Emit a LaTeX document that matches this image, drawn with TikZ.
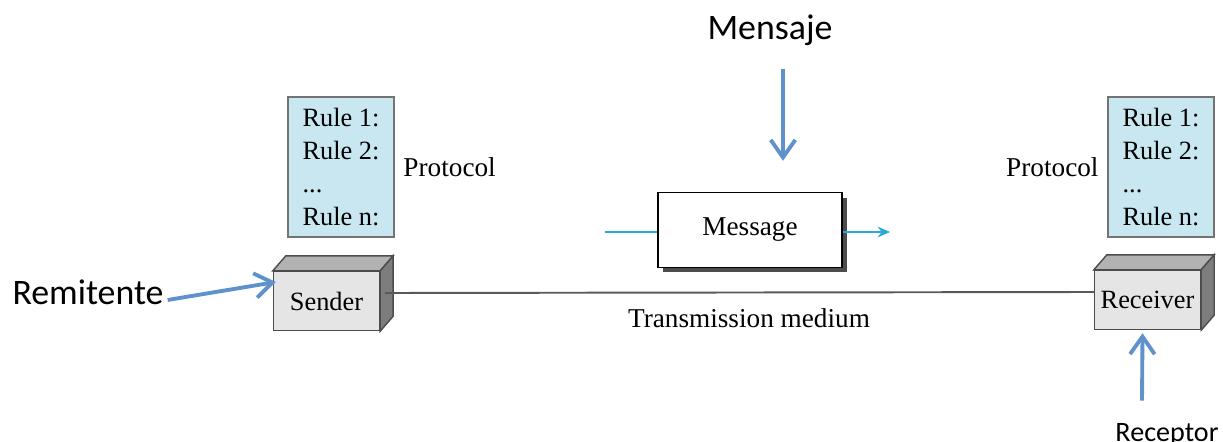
\documentclass[tikz,border=0pt]{standalone}
\usepackage{fontspec}
\setmainfont{Liberation Serif}
\newfontfamily\calibri{Carlito}
\usetikzlibrary{arrows.meta,positioning,calc,shadows}

\definecolor{notecol}{RGB}{95,145,205}
\definecolor{signal}{RGB}{40,170,215}
\definecolor{rulefill}{RGB}{200,231,241}
\definecolor{frontgray}{RGB}{229,229,229}
\definecolor{topgray}{RGB}{178,178,178}
\definecolor{sidegray}{RGB}{125,125,125}

\begin{document}
\begin{tikzpicture}[x=0.02cm, y=-0.02cm,
		rules/.style={draw=black!55, fill=rulefill, line width=0.9pt, minimum width=2.12cm, minimum height=2.8cm, inner sep=0pt, align=left, font=\fontsize{15}{18.7}\selectfont},
		station/.style={draw=black!70, fill=frontgray, line width=0.8pt, minimum width=2.12cm, minimum height=1.18cm, inner sep=0pt, font=\fontsize{15}{18}\selectfont},
		serif/.style={font=\fontsize{15.5}{18}\selectfont},
		note/.style={font=\calibri\fontsize{20.4}{24}\selectfont},
		callout/.style={draw=notecol, line width=2.2pt, -{Straight Barb[length=10pt,width=14pt]}},
	]
		\useasboundingbox (0, 0) rectangle (1223, 442);
		% rule boxes
		\node[rules] (rulesL) at (341, 167) {Rule 1:\\Rule 2:\\...\\Rule n:};
		\node[rules] (rulesR) at (1161, 167) {Rule 1:\\Rule 2:\\...\\Rule n:};
		\node[serif, right=0.05cm of rulesL] (protoL) {Protocol};
		\node[serif, left=0.05cm of rulesR] (protoR) {Protocol};
		% stations
		\node[station] (sender) at (326.5, 301) {Sender};
		\node[station] (receiver) at (1147.5, 300) {Receiver};
		\foreach \stn in {sender, receiver} {
			\filldraw[draw=black!70, fill=topgray, line width=0.8pt] (\stn.north west) -- ($(\stn.north west)+(13, -15)$) -- ($(\stn.north east)+(13, -15)$) -- (\stn.north east) -- cycle;
			\filldraw[draw=black!70, fill=sidegray, line width=0.8pt] (\stn.north east) -- ($(\stn.north east)+(13, -15)$) -- ($(\stn.south east)+(13, -15)$) -- (\stn.south east) -- cycle;
		}
		\draw[black!65, line width=1.1pt] ($(sender.east)+(5, -8)$) -- ($(receiver.west)+(0, -8)$);
		\node[serif] (medium) at (749, 318) {Transmission medium};
		% message
		\node[draw, fill=white, line width=0.8pt, minimum width=3.68cm, minimum height=1.5cm, serif, drop shadow={shadow xshift=0.1cm, shadow yshift=-0.1cm, fill=black!70, opacity=1}] (message) at (750, 230) {Message};
		\coordinate (msgin) at (605, 232);
		\coordinate (msgout) at (890, 232);
		\draw[signal, line width=1.2pt] (msgin) -- (msgin -| message.west);
		\draw[signal, line width=1.2pt, -{Stealth[length=7pt,width=6pt]}] (msgout -| message.east) -- (msgout);
		% callouts
		\node[note] (mensaje) at (770, 30) {Mensaje};
		\node[note] (remitente) at (88, 292) {Remitente};
		\node[note, font=\calibri\fontsize{16}{19}\selectfont] (receptor) at (1167, 435) {Receptor};
		\draw[callout] ([shift={(13, 17)}]mensaje.south) -- ([shift={(33, -31)}]message.north);
		\draw[callout] ([shift={(-2, 8)}]remitente.east) -- ([shift={(3, -19)}]sender.west);
		\draw[callout] ([shift={(-25, -17)}]receptor.north) -- ([shift={(-5, 3)}]receiver.south);
	\end{tikzpicture}
\end{document}
